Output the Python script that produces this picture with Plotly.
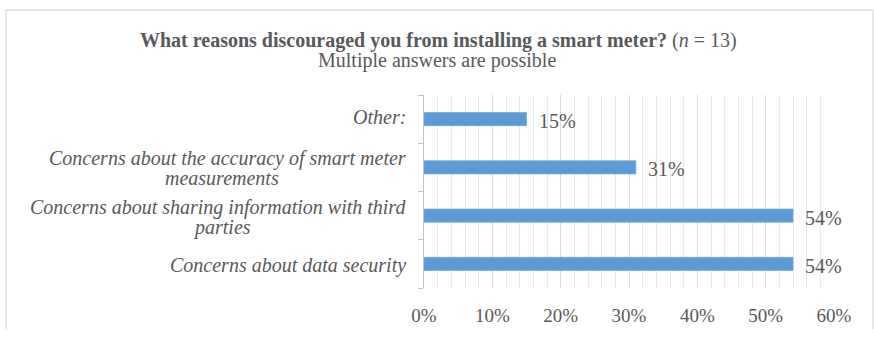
import plotly.graph_objects as go

# Survey results (n = 13), bottom to top; each label may span two lines
categories = [
    "Concerns about data security",
    "Concerns about sharing information with third parties",
    "Concerns about the accuracy of smart meter measurements",
    "Other:",
]
label_lines = [
    ["Concerns about data security"],
    ["Concerns about sharing information with third", "parties"],
    ["Concerns about the accuracy of smart meter", "measurements"],
    ["Other:"],
]
label_yshift = [-2, -2, -1, 2]
shares_pct = [54, 54, 31, 15]
x_ticks = [0, 10, 20, 30, 40, 50, 60]

W, H = 874, 338
L, R, T, B = 424, 40, 95, 43
pw, ph = W - L - R, H - T - B

FONT = "Liberation Serif"
GREY = "#595959"
BAR = "#5B9BD5"


def px(pix):
    """Pixel column (from left of page) to paper x."""
    return (pix - L) / pw


def py(pix):
    """Pixel row (from top of page) to paper y."""
    return (H - B - pix) / ph


fig = go.Figure(
    go.Bar(
        y=categories,
        x=shares_pct,
        orientation="h",
        width=0.27,
        marker=dict(color=BAR, line=dict(color="#6FA8DC", width=0.8)),
        hoverinfo="skip",
    )
)

# value labels at the end of each bar
for c, v in zip(categories, shares_pct):
    fig.add_annotation(
        x=v, y=c, xref="x", yref="y", text=f"{v}%", showarrow=False,
        xanchor="left", xshift=10, yshift=-2,
        font=dict(family=FONT, size=20, color=GREY),
    )

# category labels: first line right-aligned, continuation line centred below
LINE_GAP = 20
for c, lines, dy in zip(categories, label_lines, label_yshift):
    if len(lines) == 1:
        fig.add_annotation(
            x=0, y=c, xref="paper", yref="y", text=f"<i>{lines[0]}</i>",
            showarrow=False, xanchor="right", xshift=-16, yshift=dy,
            font=dict(family=FONT, size=20, color=GREY),
        )
    else:
        fig.add_annotation(
            x=0, y=c, xref="paper", yref="y", text=f"<i>{lines[0]}</i>",
            showarrow=False, xanchor="right", xshift=-16,
            yshift=dy + LINE_GAP / 2, font=dict(family=FONT, size=20, color=GREY),
        )
        fig.add_annotation(
            x=px(222), y=c, xref="paper", yref="y", text=f"<i>{lines[1]}</i>",
            showarrow=False, xanchor="center",
            yshift=dy - LINE_GAP / 2, font=dict(family=FONT, size=20, color=GREY),
        )

# two-line heading
fig.add_annotation(
    x=px(438), y=py(39), xref="paper", yref="paper", xanchor="center", yanchor="middle",
    text="<b>What reasons discouraged you from installing a smart meter?</b> (<i>n</i> = 13)",
    showarrow=False, font=dict(family=FONT, size=20, color=GREY),
)
fig.add_annotation(
    x=px(437), y=py(59), xref="paper", yref="paper", xanchor="center", yanchor="middle",
    text="Multiple answers are possible",
    showarrow=False, font=dict(family=FONT, size=20, color=GREY),
)

# outer chart frame, open at the bottom
x0, x1, y0, y1 = px(6), px(873), py(H), py(7)
fig.add_shape(
    type="path", xref="paper", yref="paper",
    path=f"M {x0} {y0} L {x0} {y1} L {x1} {y1} L {x1} {y0}",
    line=dict(color="#D9D9D9", width=1.2), layer="below",
)

fig.update_layout(
    width=W, height=H,
    margin=dict(l=L, r=R, t=T, b=B),
    paper_bgcolor="white", plot_bgcolor="white",
    showlegend=False,
    xaxis=dict(
        range=[0, 60], tickvals=x_ticks, ticktext=[f"{t}%" for t in x_ticks],
        showgrid=True, gridcolor="#D9D9D9", gridwidth=1,
        minor=dict(dtick=2, showgrid=True, gridcolor="#E9E9E9", gridwidth=1),
        zeroline=False, showline=False, ticks="",
        ticklabelstandoff=14,
        tickfont=dict(family=FONT, size=19, color=GREY),
        fixedrange=True,
    ),
    yaxis=dict(
        categoryorder="array", categoryarray=categories,
        showticklabels=False, showgrid=False, zeroline=False,
        showline=True, linecolor="#BFBFBF", linewidth=1,
        ticks="outside", tickson="boundaries", ticklen=5, tickcolor="#BFBFBF",
        fixedrange=True,
    ),
)

fig.write_html("out.html")
